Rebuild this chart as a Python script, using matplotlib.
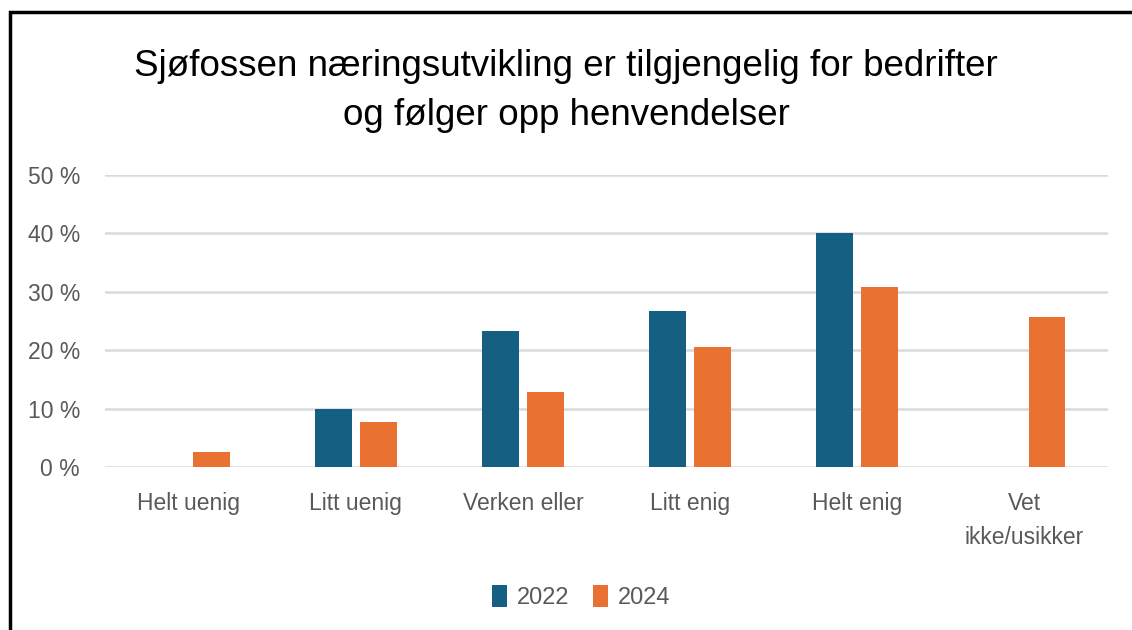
import matplotlib
matplotlib.use("Agg")
import matplotlib.pyplot as plt
import numpy as np
from matplotlib.patches import Rectangle

categories = ["Helt uenig", "Litt uenig", "Verken eller", "Litt enig", "Helt enig", "Vet\nikke/usikker"]
series_names = ["2022", "2024"]
values_2022 = [0, 10.0, 23.3, 26.7, 40.0, 0]
values_2024 = [2.5, 7.7, 12.8, 20.5, 30.8, 25.7]
yticks = [0, 10, 20, 30, 40, 50]
title = "Sjøfossen næringsutvikling er tilgjengelig for bedrifter\nog følger opp henvendelser"

colors = ["#156082", "#E97132"]
FONT = ["Liberation Sans Narrow", "Liberation Sans", "DejaVu Sans"]
plt.rcParams['font.family'] = FONT

fig = plt.figure(figsize=(11.32, 6.30), dpi=100)
ax = fig.add_axes([105/1132, 1-467/630, (1108-105)/1132, (467-175)/630])

x = np.arange(len(categories))
w = 0.22
off = 0.135
b1 = ax.bar(x - off, values_2022, w, color=colors[0], label=series_names[0], zorder=3)
b2 = ax.bar(x + off, values_2024, w, color=colors[1], label=series_names[1], zorder=3)

ax.set_xlim(-0.5, len(categories) - 0.5)
ax.set_ylim(0, 50)
ax.set_yticks(yticks)
ax.set_yticklabels([f"{v} %" for v in yticks])
ax.set_xticks(x)
ax.set_xticklabels(categories, linespacing=1.6)
ax.grid(axis="y", color="#d9d9d9", linewidth=1.8, zorder=0)
for s in ax.spines.values():
    s.set_visible(False)
ax.tick_params(axis="both", length=0, colors="#595959", labelsize=16.5)
ax.tick_params(axis="y", pad=18)
ax.tick_params(axis="x", pad=18)

fig.text(0.5, 1-91/630, title, ha="center", va="center", fontsize=26.5, color="#000000",
         linespacing=1.55)

fig.legend(handles=[b1, b2], labels=series_names, loc="center", bbox_to_anchor=(581/1132, 1-597/630),
           ncol=2, frameon=False, fontsize=17, handlelength=0.65, handleheight=1.1,
           handletextpad=0.4, columnspacing=1.0, labelcolor="#595959")

fig.patches.append(Rectangle((10/1132, -0.1), 1.2, (1-12/630) + 0.1, transform=fig.transFigure,
                             fill=False, edgecolor="black", linewidth=2.5, figure=fig))

fig.savefig("out.png", dpi=100, facecolor="white")
